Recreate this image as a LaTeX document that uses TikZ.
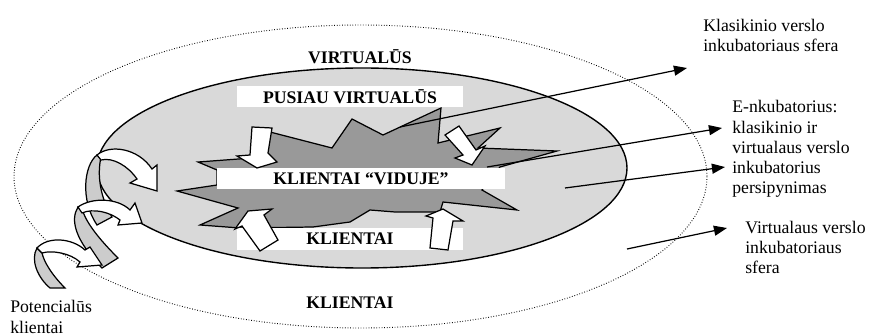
\documentclass[tikz,border=0pt]{standalone}
\usepackage{fontspec}
\setmainfont{Liberation Serif}
\usetikzlibrary{arrows.meta}
\begin{document}
\begin{tikzpicture}[x=0.65pt,y=-0.65pt,
    font=\fontsize{11.5}{13.2}\selectfont,
    outer/.style={draw,line width=0.6pt,dash pattern=on 0.5pt off 1.2pt},
    sphere/.style={draw,line width=0.9pt,fill=gray!30},
    burst/.style={draw,line width=0.8pt,fill=gray!80,line join=miter},
    bar/.style={fill=white,inner sep=0pt,font=\fontsize{11.5}{13.2}\selectfont\bfseries},
    block/.style={draw,line width=0.8pt,fill=white,line join=miter},
    band/.style={draw,line width=0.8pt,fill=gray!40},
    pointer/.style={draw,line width=0.8pt,-{Triangle[length=8.5pt,width=6.5pt]}},
    note/.style={align=left,anchor=base west,inner sep=0pt},
    title/.style={font=\fontsize{11.5}{13.2}\selectfont\bfseries,anchor=base,inner sep=0pt}]
  \useasboundingbox (0,0) rectangle (871,336);
  \draw[outer] (360.5,176.5) ellipse [x radius=346.5, y radius=151.5];
  \draw[sphere] (362,168) ellipse [x radius=265, y radius=100];
  \draw[burst] (198,162) -- (252,158) -- (270,132) -- (332,148) -- (352,119)
    -- (383,135) -- (441,108) -- (438,143) -- (500,128) -- (478,148)
    -- (557,151) -- (500,167) -- (482,190) -- (517,210) -- (443,202)
    -- (440,212) -- (395,212) -- (370,210) -- (350,222) -- (313,227)
    -- (240,228) -- (200,225) -- (238,208) -- (177,191) -- (217,185)
    -- (217,170) -- cycle;
  \coordinate (kstart) at (400,127);
  \coordinate (kend) at (687,68);
  \coordinate (estart) at (487,167);
  \coordinate (eend) at (722,128);
  \coordinate (pstart) at (565,188);
  \coordinate (pend) at (725,167);
  \coordinate (vstart) at (627,249);
  \coordinate (vend) at (727,228);
  \node[bar,minimum width=147pt,minimum height=13.7pt] (pusiau) at (350,96.5) {PUSIAU VIRTUALŪS};
  \node[bar,minimum width=187pt,minimum height=13.7pt] (viduje) at (361,178.5) {KLIENTAI “VIDUJE”};
  \node[bar,minimum width=147pt,minimum height=14.3pt] (klientaiIn) at (350,239) {KLIENTAI};
  \draw[block] (252,127) -- (272,128) -- (268,153) -- (277,162) -- (257,168) -- (237,156) -- (250,155) -- cycle;
  \draw[block] (445,135) -- (459,126) -- (476,150) -- (485,146) -- (472,165) -- (455,158) -- (463,155) -- cycle;
  \draw[block] (248,211) -- (272,209) -- (264,215) -- (278,240) -- (260,251) -- (242,226) -- (235,229) -- cycle;
  \draw[block] (443,209) -- (463,221) -- (453,221) -- (448,250) -- (430,248) -- (433,218) -- (426,216) -- cycle;
  \draw[band] (97,155) .. controls (84,165) and (80,200) .. (97,225) -- (112,217)
    .. controls (100,197) and (97,175) .. (101,157) -- cycle;
  \draw[band] (78,207) .. controls (70,220) and (75,240) .. (102,268) -- (118,258)
    .. controls (100,240) and (88,225) .. (83,212) -- cycle;
  \draw[band] (37,248) .. controls (30,260) and (38,278) .. (50,288) -- (65,288)
    .. controls (52,275) and (44,262) .. (42,253) -- cycle;
  \draw[block] (97,155) .. controls (110,144) and (138,148) .. (152,169) -- (157,165)
    -- (157,191) -- (130,183) -- (137,179) .. controls (128,166) and (113,157) .. (101,160) -- cycle;
  \draw[block] (78,207) .. controls (92,197) and (118,198) .. (130,210) -- (135,203)
    -- (142,223) -- (118,225) -- (120,220) .. controls (110,212) and (93,208) .. (82,213) -- cycle;
  \draw[block] (37,248) .. controls (48,236) and (72,238) .. (85,250) -- (90,247)
    -- (102,265) -- (77,267) -- (80,262) .. controls (70,253) and (52,250) .. (42,253) -- cycle;
  \node[title] (virtualus) at (360,64) {VIRTUALŪS};
  \node[title] (klientaiOut) at (350,308) {KLIENTAI};
  \node[note] (klasik) at (703,51.5) {Klasikinio verslo\\inkubatoriaus sfera};
  \node[note] (enkub) at (732,194) {E-nkubatorius:\\klasikinio ir\\virtualaus verslo\\inkubatorius\\persipynimas};
  \node[note] (virt) at (745,274) {Virtualaus verslo\\inkubatoriaus\\sfera};
  \node[note] (potenc) at (10,333) {Potencialūs\\klientai};
  \draw[pointer] (kstart) -- (kend);
  \draw[pointer] (estart) -- (eend);
  \draw[pointer] (pstart) -- (pend);
  \draw[pointer] (vstart) -- (vend);
\end{tikzpicture}
\end{document}
